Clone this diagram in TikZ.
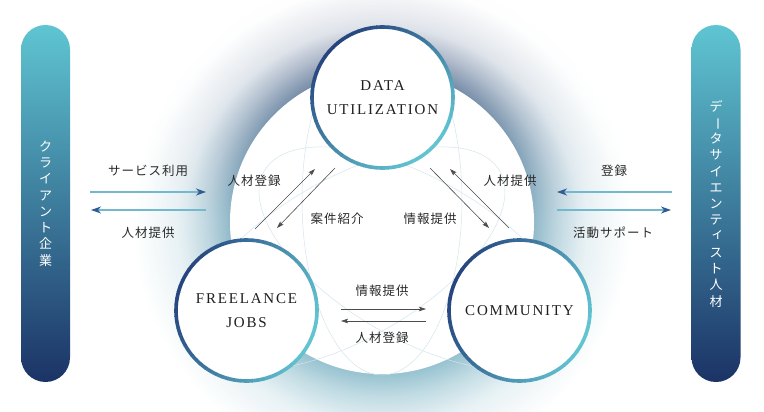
\documentclass[tikz,border=0pt]{standalone}
\usepackage{fontspec}
\usepackage{graphicx}
\usetikzlibrary{calc,arrows.meta,fadings}
\newfontfamily\jp{Noto Sans CJK JP}
\newfontfamily\capfont{Liberation Serif}

\definecolor{barteal}{HTML}{5FC5D2}
\definecolor{barnavy}{HTML}{1B3366}
\definecolor{ringteal}{HTML}{62C4D1}
\definecolor{ringnavy}{HTML}{26457E}
\definecolor{haloteal}{HTML}{9CCAD6}
\definecolor{halogray}{HTML}{5E6389}
\definecolor{thinline}{HTML}{D3E5EC}
\definecolor{arrowblue}{HTML}{72B9CE}
\definecolor{tipnavy}{HTML}{2F5C93}
\definecolor{labelgray}{HTML}{2A2A2A}

\pgfdeclareradialshading{halotealshade}{\pgfpointorigin}{color(0bp)=(haloteal); color(15.2bp)=(haloteal); color(17.5bp)=(haloteal!60!white); color(20.5bp)=(haloteal!22!white); color(25bp)=(white); color(50bp)=(white)}
\pgfdeclareradialshading{halograyshade}{\pgfpointorigin}{color(0bp)=(halogray); color(14.8bp)=(halogray); color(17bp)=(halogray!55!white); color(19bp)=(halogray!20!white); color(23bp)=(white); color(50bp)=(white)}
\tikzfading[name=halotop, top color=transparent!0, bottom color=transparent!100, middle color=transparent!85]

\newcommand{\ringgrad}[2]{%
  \foreach \a [evaluate=\a as \p using 50+50*cos(\a-#2)] in {0,5,...,355}
    \draw[line width=3.6pt, ringteal!\p!ringnavy]
      ($(#1.center)+(\a:70.5)$) arc[start angle=\a, delta angle=5.6, radius=70.5];}

\begin{document}
\begin{tikzpicture}[x=1pt,y=-1pt,
  sidebar/.style={rounded corners=24.5pt, minimum width=49pt, minimum height=357pt, inner sep=0pt,
    top color=barteal, bottom color=barnavy, text=white, align=center,
    font=\jp\fontsize{13}{16.25}\selectfont},
  hubnode/.style={circle, fill=white, minimum size=142pt, inner sep=0pt, align=center, text=black!88,
    font=\capfont\fontsize{15}{23.5}\selectfont\addfontfeature{LetterSpace=12}},
  jplabel/.style={text=labelgray, inner sep=0pt,
    font=\jp\fontsize{12.5}{14}\selectfont\addfontfeature{LetterSpace=8}},
  flowarrow/.style={line width=1.2pt, arrowblue, -{Stealth[length=10pt,width=7pt,inset=3pt,color=tipnavy]}},
  linkarrow/.style={line width=0.6pt, black!70, -{Stealth[length=7pt,width=4.5pt,inset=1.5pt]}},
  vennline/.style={thinline, line width=0.5pt}]
\useasboundingbox (0,0) rectangle (764,412);
\clip (0,0) rectangle (764,412);

\shade[shading=halotealshade] (382,222) circle (250);
\shade[shading=halograyshade, path fading=halotop] (382,222) circle (258);
\fill[white] (382,222) circle (152);

\draw[vennline] (382,200) ellipse [x radius=80, y radius=175];
\draw[vennline, rotate around={120:(382,239)}] (382,200) ellipse [x radius=80, y radius=175];
\draw[vennline, rotate around={-120:(382,239)}] (382,200) ellipse [x radius=80, y radius=175];

\node[sidebar] (client) at (45.5,203.5) {ク\\ラ\\イ\\ア\\ン\\ト\\企\\業};
\node[sidebar] (talent) at (716,203.5) {デ\\\rotatebox[origin=c]{-90}{ー}\\タ\\サ\\イ\\エ\\ン\\テ\\\raisebox{3pt}{\hspace*{3pt}ィ}\\ス\\ト\\人\\材};

\node[hubnode] (data) at (382.5,97.5) {DATA\\UTILIZATION};
\node[hubnode] (free) at (246.5,310.5) {FREELANCE\\JOBS};
\node[hubnode] (comm) at (519.5,310.5) {COMMUNITY};
\ringgrad{data}{45}
\ringgrad{free}{20}
\ringgrad{comm}{20}

\coordinate (svcA) at (90,192);  \coordinate (svcB) at (206,192);
\coordinate (supA) at (206,210); \coordinate (supB) at (91,210);
\coordinate (regA) at (672,192); \coordinate (regB) at (557,192);
\coordinate (actA) at (557,210); \coordinate (actB) at (671,210);
\draw[flowarrow] (svcA) -- (svcB);
\draw[flowarrow] (supA) -- (supB);
\draw[flowarrow] (regA) -- (regB);
\draw[flowarrow] (actA) -- (actB);

\coordinate (fdA) at (255,229); \coordinate (fdB) at (315,169);
\coordinate (dfA) at (335,168); \coordinate (dfB) at (277,228);
\coordinate (dcA) at (430,168); \coordinate (dcB) at (489,228);
\coordinate (cdA) at (509,228); \coordinate (cdB) at (450,169);
\coordinate (fcA) at (341,309); \coordinate (fcB) at (426,309);
\coordinate (cfA) at (426,321); \coordinate (cfB) at (341,321);
\draw[linkarrow] (fdA) -- (fdB);
\draw[linkarrow] (dfA) -- (dfB);
\draw[linkarrow] (dcA) -- (dcB);
\draw[linkarrow] (cdA) -- (cdB);
\draw[linkarrow] (fcA) -- (fcB);
\draw[linkarrow] (cfA) -- (cfB);

\node[jplabel] (svc) at (148,171) {サービス利用};
\node[jplabel] (supL) at (148,233) {人材提供};
\node[jplabel] (regL) at (254,181) {人材登録};
\node[jplabel] (job) at (337,219) {案件紹介};
\node[jplabel] (infoR) at (430,219) {情報提供};
\node[jplabel] (supR) at (510,181) {人材提供};
\node[jplabel] (reg) at (614,171) {登録};
\node[jplabel] (act) at (613,233) {活動サポート};
\node[jplabel] (infoM) at (382,291) {情報提供};
\node[jplabel] (regM) at (382,338) {人材登録};
\end{tikzpicture}
\end{document}
